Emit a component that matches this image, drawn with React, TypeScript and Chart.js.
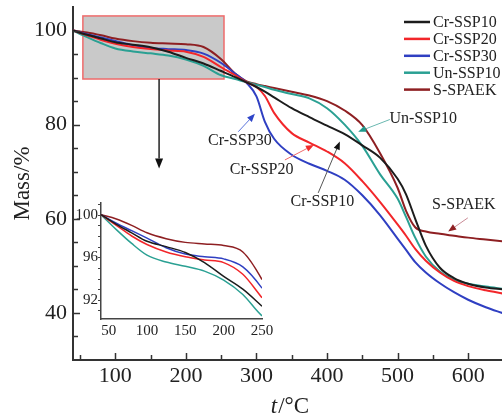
import React, { useEffect, useRef } from "react";
import { Chart, registerables } from "chart.js";

Chart.register(...registerables);

// ---------------- data ----------------
const temperatures = [40, 60, 80, 100, 125, 150, 175, 200, 225, 250, 270, 286, 300, 312, 325, 350, 375, 400, 425, 450, 475, 500, 512, 525, 540, 560, 580, 600, 625, 650];

const crSSP10 = [100, 99.1, 98.3, 97.5, 97.0, 96.45, 95.5, 94.2, 93.0, 91.4, 90.1, 89.0, 88.0, 87.0, 85.8, 83.5, 81.6, 79.8, 78.0, 75.6, 73.0, 68.5, 65.2, 60.0, 54.3, 49.6, 47.4, 46.2, 45.4, 45.0];
const crSSP20 = [100, 99.0, 98.0, 97.2, 96.5, 96.05, 95.75, 95.5, 94.4, 92.2, 90.5, 89.0, 88.0, 86.1, 82.5, 78.2, 76.2, 74.3, 71.8, 68.0, 63.6, 58.8, 56.4, 53.6, 51.1, 48.6, 46.8, 45.7, 44.8, 44.1];
const crSSP30 = [100, 99.2, 98.5, 97.8, 96.9, 96.3, 96.05, 95.85, 95.1, 93.1, 90.8, 88.9, 86.0, 80.6, 77.0, 73.6, 71.7, 70.2, 68.3, 65.0, 60.8, 55.8, 53.4, 50.8, 48.6, 46.3, 44.4, 42.8, 41.2, 39.9];
const unSSP10 = [100, 98.6, 97.3, 96.2, 95.55, 95.15, 94.7, 93.85, 92.5, 90.5, 89.7, 89.0, 88.5, 88.0, 87.4, 86.5, 85.6, 83.5, 80.0, 75.5, 69.5, 64.3, 60.4, 56.0, 52.0, 48.8, 47.1, 46.2, 45.6, 45.1];
const sSPAEK = [100, 99.6, 99.0, 98.3, 97.75, 97.4, 97.25, 97.1, 96.5, 93.9, 90.8, 89.2, 88.6, 88.2, 87.8, 87.0, 86.2, 85.0, 83.0, 79.9, 74.0, 66.6, 61.7, 58.2, 57.3, 56.8, 56.4, 56.0, 55.6, 55.2];

const seriesLabels = ["Cr-SSP10", "Cr-SSP20", "Cr-SSP30", "Un-SSP10", "S-SPAEK"];
const seriesValues = [crSSP10, crSSP20, crSSP30, unSSP10, sSPAEK];
const seriesColors = ["#1c1c1c", "#f2262a", "#2f3fc2", "#2aa093", "#8e1f22"];

// tick labels
const mainXTicks = [100, 200, 300, 400, 500, 600];
const mainYTicks = [40, 60, 80, 100];
const insetXTicks = [50, 100, 150, 200, 250];
const insetYTicks = [92, 96, 100];

const xAxisTitleItalic = "t";
const xAxisTitleRest = "/°C";
const yAxisTitle = "Mass/%";

// zoom window (data units) shown enlarged in the inset
const zoomBox = { x0: 54, x1: 254, y0: 89.7, y1: 103.1 };

// callouts: label text, text anchor, arrow start, arrow tip (data units)
const callouts = [
  { text: "Cr-SSP30", at: [276.6, 76.5], from: [274.2, 78.5], to: [297.8, 82.3], shaft: "#5a74dc", head: "#2f45c8" },
  { text: "Cr-SSP20", at: [307.3, 70.4], from: [340.3, 72.5], to: [381.4, 75.7], shaft: "#f06a6a", head: "#f02a2a" },
  { text: "Cr-SSP10", at: [393.4, 63.6], from: [387.5, 65.5], to: [418.2, 76.4], shaft: "#555555", head: "#111111" },
  { text: "Un-SSP10", at: [536.3, 81.2], from: [489.1, 81.1], to: [444.2, 78.5], shaft: "#6ab8b0", head: "#1f9a8c" },
  { text: "S-SPAEK", at: [593.9, 63.0], from: [599.6, 60.2], to: [571.7, 57.3], shaft: "#c98a95", head: "#8e1f22" },
];

const FONT = '"Liberation Serif", "Times New Roman", Times, serif';
const TEXT = "#222222";

function buildDatasets(width: number) {
  return seriesLabels.map((label, i) => ({
    label,
    data: temperatures.map((t, j) => ({ x: t, y: seriesValues[i][j] })),
    borderColor: seriesColors[i],
    backgroundColor: seriesColors[i],
    borderWidth: width,
    pointRadius: 0,
    cubicInterpolationMode: "monotone" as const,
    fill: false,
  }));
}

function arrow(ctx: CanvasRenderingContext2D, x1: number, y1: number, x2: number, y2: number, shaft: string, head: string, len = 9, half = 3.5, width = 1) {
  const ang = Math.atan2(y2 - y1, x2 - x1);
  const bx = x2 - len * Math.cos(ang);
  const by = y2 - len * Math.sin(ang);
  ctx.save();
  ctx.strokeStyle = shaft;
  ctx.lineWidth = width;
  ctx.beginPath();
  ctx.moveTo(x1, y1);
  ctx.lineTo(bx, by);
  ctx.stroke();
  ctx.fillStyle = head;
  ctx.beginPath();
  ctx.moveTo(x2, y2);
  ctx.lineTo(bx + half * Math.sin(ang), by - half * Math.cos(ang));
  ctx.lineTo(bx - half * Math.sin(ang), by + half * Math.cos(ang));
  ctx.closePath();
  ctx.fill();
  ctx.restore();
}

const mainDecor = {
  id: "mainDecor",
  beforeDatasetsDraw(chart: any) {
    const { ctx } = chart;
    const x = chart.scales.x;
    const y = chart.scales.y;
    const x0 = x.getPixelForValue(zoomBox.x0);
    const x1 = x.getPixelForValue(zoomBox.x1);
    const y0 = y.getPixelForValue(zoomBox.y1);
    const y1 = y.getPixelForValue(zoomBox.y0);
    ctx.save();
    ctx.fillStyle = "#c9c9c9";
    ctx.fillRect(x0, y0, x1 - x0, y1 - y0);
    ctx.strokeStyle = "#ee6b6b";
    ctx.lineWidth = 1.5;
    ctx.strokeRect(x0, y0, x1 - x0, y1 - y0);
    ctx.restore();
  },
  afterDraw(chart: any) {
    const { ctx, chartArea } = chart;
    const x = chart.scales.x;
    const y = chart.scales.y;
    ctx.save();
    // ticks (inward)
    ctx.strokeStyle = "#333333";
    ctx.lineWidth = 1.5;
    for (let v = 50; v <= 600; v += 50) {
      const px = Math.round(x.getPixelForValue(v)) + 0.5;
      const len = v % 100 === 0 ? 7 : 5;
      ctx.beginPath();
      ctx.moveTo(px, chartArea.bottom);
      ctx.lineTo(px, chartArea.bottom - len);
      ctx.stroke();
    }
    for (let v = 35; v <= 100; v += 5) {
      const py = Math.round(y.getPixelForValue(v)) + 0.5;
      const len = v % 20 === 0 ? 7 : 5;
      ctx.beginPath();
      ctx.moveTo(chartArea.left, py);
      ctx.lineTo(chartArea.left + len, py);
      ctx.stroke();
    }

    // arrow from zoom box to inset
    const ax = x.getPixelForValue((zoomBox.x0 + zoomBox.x1) / 2 + 8);
    arrow(ctx, ax, y.getPixelForValue(zoomBox.y0), ax, y.getPixelForValue(70.7), "#222", "#111", 10, 4, 1.5);

    // callouts
    ctx.font = `16px ${FONT}`;
    ctx.textAlign = "center";
    ctx.textBaseline = "middle";
    for (const c of callouts) {
      arrow(ctx, x.getPixelForValue(c.from[0]), y.getPixelForValue(c.from[1]), x.getPixelForValue(c.to[0]), y.getPixelForValue(c.to[1]), c.shaft, c.head, 8, 3.2, 1);
      ctx.fillStyle = TEXT;
      ctx.fillText(c.text, x.getPixelForValue(c.at[0]), y.getPixelForValue(c.at[1]));
    }

    // legend
    ctx.textAlign = "left";
    chart.data.datasets.forEach((ds: any, i: number) => {
      const ly = 22 + i * 16.9;
      const lx = chartArea.right - 98;
      ctx.strokeStyle = ds.borderColor;
      ctx.lineWidth = 2.5;
      ctx.beginPath();
      ctx.moveTo(lx, ly);
      ctx.lineTo(lx + 26, ly);
      ctx.stroke();
      ctx.fillStyle = TEXT;
      ctx.fillText(ds.label, lx + 29, ly + 1);
    });

    // x axis title: italic t + /°C
    ctx.textBaseline = "alphabetic";
    ctx.font = `italic 23px ${FONT}`;
    const w1 = ctx.measureText(xAxisTitleItalic).width;
    ctx.font = `23px ${FONT}`;
    const w2 = ctx.measureText(xAxisTitleRest).width;
    const cx = (chartArea.left + chartArea.right) / 2 + 2;
    const startX = cx - (w1 + w2) / 2;
    ctx.font = `italic 23px ${FONT}`;
    ctx.fillText(xAxisTitleItalic, startX, 413);
    ctx.font = `23px ${FONT}`;
    ctx.fillText(xAxisTitleRest, startX + w1 + 1, 413);
    ctx.restore();
  },
};

const insetDecor = {
  id: "insetDecor",
  afterDraw(chart: any) {
    const { ctx, chartArea } = chart;
    const y = chart.scales.y;
    ctx.save();
    ctx.strokeStyle = "#444444";
    ctx.lineWidth = 1;
    for (let v = 91; v <= 101; v += 1) {
      const py = Math.round(y.getPixelForValue(v)) + 0.5;
      ctx.beginPath();
      ctx.moveTo(chartArea.left, py);
      ctx.lineTo(chartArea.left - 3, py);
      ctx.stroke();
    }
    ctx.restore();
  },
};

const setTicks = (values: number[]) => (s: any) => {
  s.ticks = values.map((v) => ({ value: v }));
};

export default function App() {
  const mainRef = useRef<HTMLCanvasElement | null>(null);
  const insetRef = useRef<HTMLCanvasElement | null>(null);

  useEffect(() => {
    const main = new Chart(mainRef.current as HTMLCanvasElement, {
      type: "line",
      data: { datasets: buildDatasets(2) as any },
      options: {
        responsive: false,
        animation: false,
        events: [],
        layout: { padding: { top: 7, right: 0, left: 0, bottom: 0 } },
        plugins: { legend: { display: false }, tooltip: { enabled: false } },
        scales: {
          x: {
            type: "linear",
            min: 40,
            max: 648,
            grid: { display: false, drawTicks: false },
            border: { display: true, color: "#333333", width: 2 },
            ticks: { autoSkip: false, maxRotation: 0, padding: 3, color: TEXT, font: { family: FONT, size: 22 } },
            afterBuildTicks: setTicks(mainXTicks),
            afterFit: (s: any) => { s.height = 55; s.paddingLeft = 0; s.paddingRight = 0; },
          },
          y: {
            type: "linear",
            min: 30,
            max: 105,
            grid: { display: false, drawTicks: false },
            border: { display: true, color: "#333333", width: 2 },
            ticks: { autoSkip: false, padding: 6, color: TEXT, font: { family: FONT, size: 22 } },
            afterBuildTicks: setTicks(mainYTicks),
            title: { display: true, text: yAxisTitle, color: TEXT, font: { family: FONT, size: 23 }, padding: { top: 9, bottom: 0 } },
            afterFit: (s: any) => { s.width = 73; s.paddingTop = 0; s.paddingBottom = 0; },
          },
        },
      } as any,
      plugins: [mainDecor],
    });

    const inset = new Chart(insetRef.current as HTMLCanvasElement, {
      type: "line",
      data: { datasets: buildDatasets(1.5) as any },
      options: {
        responsive: false,
        animation: false,
        events: [],
        layout: { padding: { top: 7, right: 12, left: 0, bottom: 0 } },
        plugins: { legend: { display: false }, tooltip: { enabled: false } },
        scales: {
          x: {
            type: "linear",
            min: 40,
            max: 250,
            grid: { display: false, drawTicks: false },
            border: { display: true, color: "#444444", width: 1.5 },
            ticks: { autoSkip: false, maxRotation: 0, padding: 3, color: TEXT, font: { family: FONT, size: 15 } },
            afterBuildTicks: setTicks(insetXTicks),
            afterFit: (s: any) => { s.height = 27; s.paddingLeft = 0; s.paddingRight = 0; },
          },
          y: {
            type: "linear",
            min: 90.2,
            max: 101.1,
            grid: { display: false, drawTicks: false },
            border: { display: true, color: "#444444", width: 1.5 },
            ticks: { autoSkip: false, padding: 3, color: TEXT, font: { family: FONT, size: 15 } },
            afterBuildTicks: setTicks(insetYTicks),
            afterFit: (s: any) => { s.width = 27; s.paddingTop = 0; s.paddingBottom = 0; },
          },
        },
      } as any,
      plugins: [insetDecor],
    });

    return () => {
      main.destroy();
      inset.destroy();
    };
  }, []);

  return (
    <div style={{ position: "fixed", left: 0, top: 0, width: 502, height: 415, background: "#ffffff" }}>
      <canvas ref={mainRef} width={502} height={415} style={{ position: "absolute", left: 0, top: 0, width: 502, height: 415 }} />
      <canvas ref={insetRef} width={200} height={150} style={{ position: "absolute", left: 74, top: 196, width: 200, height: 150 }} />
    </div>
  );
}
